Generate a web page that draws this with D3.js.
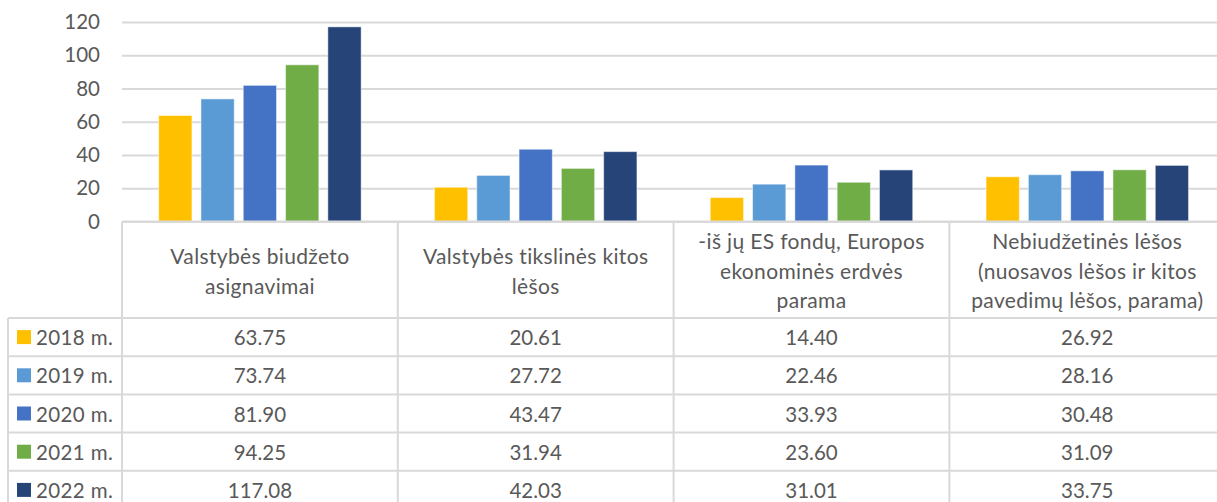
<!DOCTYPE html>
<html>
<head>
<meta charset="utf-8">
<script src="https://cdn.jsdelivr.net/npm/d3@7"></script>
<style>
  html, body { margin: 0; padding: 0; background: #fff; overflow: hidden; }
  svg { display: block; }
  text { font-family: Lato, "Open Sans", sans-serif; fill: #595959; }
</style>
</head>
<body>
<svg id="chart" width="1217" height="502"></svg>
<script>
// ---- data ----
const categories = [
  "Valstybės biudžeto asignavimai",
  "Valstybės tikslinės kitos lėšos",
  "-iš jų ES fondų, Europos ekonominės erdvės parama",
  "Nebiudžetinės lėšos (nuosavos lėšos ir kitos pavedimų lėšos, parama)"
];
const categoryLines = [
  ["Valstybės biudžeto", "asignavimai"],
  ["Valstybės tikslinės kitos", "lėšos"],
  ["-iš jų ES fondų, Europos", "ekonominės erdvės", "parama"],
  ["Nebiudžetinės lėšos", "(nuosavos lėšos ir kitos", "pavedimų lėšos, parama)"]
];
const years = ["2018 m.", "2019 m.", "2020 m.", "2021 m.", "2022 m."];
const values2018 = [63.75, 20.61, 14.40, 26.92];
const values2019 = [73.74, 27.72, 22.46, 28.16];
const values2020 = [81.90, 43.47, 33.93, 30.48];
const values2021 = [94.25, 31.94, 23.60, 31.09];
const values2022 = [117.08, 42.03, 31.01, 33.75];
const seriesValues = [values2018, values2019, values2020, values2021, values2022];
const colors = ["#FFC000", "#5B9BD5", "#4472C4", "#70AD47", "#264478"];
const yTicks = [0, 20, 40, 60, 80, 100, 120];

// ---- layout ----
const svg = d3.select("#chart");
const plotLeft = 122, catStep = 275.8;
const plotRight = plotLeft + catStep * categories.length;
const yTop = 22, yBase = 221.5;
const headerBottom = 318, rowH = 38.2;
const legendLeft = 8;
const gridColor = "#d9d9d9";
const fontSize = 20.5;

const x0 = d3.scaleBand().domain(categories).range([plotLeft, plotRight]).padding(0);
const groupW = 211.5;
const x1 = d3.scaleBand().domain(years).range([0, groupW]).paddingInner(0.213).paddingOuter(0.1065);
const y = d3.scaleLinear().domain([0, 120]).range([yBase, yTop]);

// gridlines
const yAxis = d3.axisLeft(y).tickValues(yTicks).tickSize(-(plotRight - plotLeft)).tickPadding(22);
const gy = svg.append("g").attr("transform", `translate(${plotLeft},0)`).call(yAxis);
gy.select(".domain").remove();
gy.selectAll(".tick line").attr("stroke", gridColor).attr("stroke-width", 2);
gy.selectAll(".tick text")
  .style("font-family", "Lato, 'Open Sans', sans-serif")
  .style("font-size", fontSize + "px")
  .attr("fill", "#595959");

// bars
const groups = svg.append("g").selectAll("g")
  .data(categories).join("g")
  .attr("transform", d => `translate(${x0(d) + (x0.bandwidth() - groupW) / 2},0)`);
groups.selectAll("rect")
  .data((c, ci) => years.map((yr, si) => ({ yr, si, v: seriesValues[si][ci] })))
  .join("rect")
  .attr("x", d => x1(d.yr))
  .attr("width", x1.bandwidth())
  .attr("y", d => y(d.v))
  .attr("height", d => y(0) - y(d.v))
  .attr("fill", d => colors[d.si])
  .attr("stroke", "#ffffff")
  .attr("stroke-opacity", 0.5)
  .attr("stroke-width", 1);

// table lines
const tableBottom = headerBottom + rowH * years.length;
const tl = svg.append("g").attr("stroke", gridColor).attr("stroke-width", 2);
tl.append("line").attr("x1", plotLeft).attr("x2", plotRight).attr("y1", yBase).attr("y2", yBase);
categories.forEach(c => {
  tl.append("line").attr("x1", x0(c)).attr("x2", x0(c)).attr("y1", yBase).attr("y2", tableBottom);
});
tl.append("line").attr("x1", plotRight).attr("x2", plotRight).attr("y1", yBase).attr("y2", tableBottom);
tl.append("line").attr("x1", legendLeft).attr("x2", legendLeft).attr("y1", headerBottom).attr("y2", tableBottom);
for (let i = 0; i <= years.length; i++) {
  const yy = headerBottom + i * rowH;
  tl.append("line").attr("x1", legendLeft).attr("x2", plotRight).attr("y1", yy).attr("y2", yy);
}

// header text
const lineH = 29.5;
categories.forEach((c, ci) => {
  const lines = categoryLines[ci];
  const cy = (yBase + headerBottom) / 2;
  const startY = cy - (lines.length - 1) * lineH / 2;
  const t = svg.append("text")
    .attr("text-anchor", "middle")
    .attr("dominant-baseline", "central")
    .style("font-size", "21px")
    .style("letter-spacing", "0.35px");
  lines.forEach((ln, li) => {
    t.append("tspan").attr("x", x0(c) + x0.bandwidth() / 2).attr("y", startY + li * lineH).text(ln);
  });
});

// rows
const fmt = d3.format(".2f");
years.forEach((yr, si) => {
  const cy = headerBottom + si * rowH + rowH / 2;
  svg.append("rect").attr("x", 17).attr("y", cy - 7).attr("width", 14).attr("height", 14).attr("fill", colors[si]);
  svg.append("text").attr("x", 36).attr("y", cy).attr("dominant-baseline", "central")
    .style("font-size", fontSize + "px").style("letter-spacing", "0.4px").text(yr);
  categories.forEach((c, ci) => {
    svg.append("text")
      .attr("x", x0(c) + x0.bandwidth() / 2)
      .attr("y", cy)
      .attr("text-anchor", "middle")
      .attr("dominant-baseline", "central")
      .style("font-size", fontSize + "px")
      .text(fmt(seriesValues[si][ci]));
  });
});
</script>
</body>
</html>
